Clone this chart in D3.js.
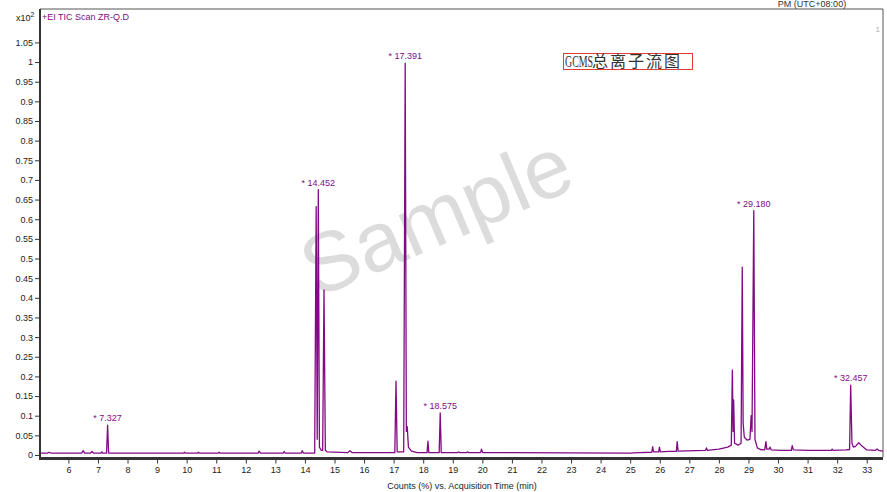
<!DOCTYPE html>
<html>
<head>
<meta charset="utf-8">
<script src="https://cdn.jsdelivr.net/npm/d3@7"></script>
<style>
  body { margin: 0; background: #fff; }
  svg { display: block; font-family: "Liberation Sans", Arial, sans-serif; }
</style>
</head>
<body>
<div id="chart"></div>
<script>
// Chromatogram trace: retention time (min) and counts (x10^2)
const times = [
  5.04, 5.30, 5.35, 5.40, 6.45, 6.50, 6.55, 6.75, 6.80, 6.85, 7.10, 7.13, 7.16,
  7.29, 7.327, 7.36, 9.90, 9.93, 9.96, 10.37, 10.40, 10.43, 11.07, 11.10, 11.13,
  12.42, 12.45, 12.50, 13.27, 13.30, 13.33, 13.88, 13.91, 13.95,
  14.33, 14.38, 14.415, 14.452, 14.49, 14.55, 14.60, 14.645, 14.69, 14.75,
  15.45, 15.52, 15.60, 17.04, 17.08, 17.12, 17.34, 17.391, 17.43, 17.46, 17.50, 17.60, 17.80,
  18.13, 18.16, 18.19, 18.54, 18.575, 18.61, 19.17, 19.20, 19.23, 19.47, 19.50, 19.53,
  19.94, 19.97, 20.01, 25.00, 25.30, 25.73, 25.76, 25.79, 25.96, 25.99, 26.02,
  26.30, 26.56, 26.59, 26.62, 27.20, 27.55, 27.58, 27.61, 28.00, 28.30,
  28.42, 28.455, 28.48, 28.50, 28.53, 28.65, 28.75, 28.79, 28.82, 28.86, 28.95,
  29.05, 29.09, 29.12, 29.18, 29.22, 29.30, 29.40, 29.55, 29.59, 29.62, 29.70, 29.73, 29.77,
  30.10, 30.45, 30.48, 30.52, 31.00, 31.80, 31.83, 31.86, 32.30,
  32.42, 32.457, 32.50, 32.55, 32.62, 32.73, 32.85, 33.00, 33.30, 33.35, 33.40, 33.55
];
const counts = [
  0.005, 0.005, 0.007, 0.005, 0.005, 0.011, 0.005, 0.005, 0.009, 0.005, 0.005, 0.008, 0.005,
  0.005, 0.076, 0.005, 0.005, 0.007, 0.005, 0.005, 0.007, 0.005, 0.005, 0.007, 0.005,
  0.005, 0.010, 0.005, 0.005, 0.009, 0.005, 0.005, 0.011, 0.005,
  0.005, 0.632, 0.040, 0.675, 0.020, 0.012, 0.012, 0.420, 0.012, 0.008,
  0.006, 0.011, 0.006, 0.006, 0.188, 0.008, 0.008, 0.997, 0.060, 0.072, 0.020, 0.010, 0.006,
  0.006, 0.035, 0.006, 0.006, 0.107, 0.006, 0.006, 0.008, 0.006, 0.006, 0.008, 0.006,
  0.006, 0.015, 0.006, 0.005, 0.006, 0.007, 0.021, 0.008, 0.008, 0.020, 0.008,
  0.009, 0.009, 0.034, 0.010, 0.011, 0.012, 0.018, 0.012, 0.015, 0.020,
  0.025, 0.216, 0.060, 0.140, 0.030, 0.025, 0.030, 0.478, 0.080, 0.045, 0.038,
  0.040, 0.100, 0.060, 0.622, 0.040, 0.018, 0.014, 0.013, 0.034, 0.015, 0.015, 0.020, 0.013,
  0.012, 0.012, 0.024, 0.013, 0.012, 0.012, 0.015, 0.012, 0.013,
  0.014, 0.178, 0.030, 0.020, 0.022, 0.031, 0.022, 0.013, 0.012, 0.015, 0.012, 0.010
];

// Labelled peaks
const peakTimes = [7.327, 14.452, 17.391, 18.575, 29.180, 32.457];
const peakLabels = ["* 7.327", "* 14.452", "* 17.391", "* 18.575", "* 29.180", "* 32.457"];

// Axis ticks
const xTicks = d3.range(6, 34, 1);
const yTicks = d3.range(0, 21.5, 1).map(i => i * 0.05);

const W = 887, H = 492;
const frame = { left: 40, right: 883, top: 9, bottom: 457 };
const purple = "#820a84";

const svg = d3.select("#chart").append("svg")
  .attr("width", W)
  .attr("height", H);

const x = d3.scaleLinear().domain([5.04, 33.55]).range([frame.left, frame.right]);
const y = d3.scaleLinear().domain([-0.0051, 1.135]).range([frame.bottom, frame.top]);

// Watermark behind the trace
svg.append("text")
  .attr("transform", "translate(436,216) rotate(-23)")
  .attr("text-anchor", "middle")
  .attr("dominant-baseline", "central")
  .attr("fill", "#dcdcdc")
  .style("font-size", "84px")
  .text("Sample");

// Top / right frame
svg.append("path")
  .attr("d", `M${frame.left},${frame.top}H${frame.right}V${frame.bottom}`)
  .attr("fill", "none")
  .attr("stroke", "#555")
  .attr("stroke-width", 1);

// Trace
const points = times.map((t, i) => [t, counts[i]]);
svg.append("path")
  .datum(points)
  .attr("fill", "none")
  .attr("stroke", purple)
  .attr("stroke-width", 1.3)
  .attr("stroke-linejoin", "round")
  .attr("d", d3.line().x(d => x(d[0])).y(d => y(d[1])));

// Peak labels
svg.selectAll(".peak-label")
  .data(peakTimes)
  .enter()
  .append("text")
  .attr("class", "peak-label")
  .attr("x", d => x(d))
  .attr("y", d => y(counts[times.indexOf(d)]) - 4)
  .attr("text-anchor", "middle")
  .attr("fill", purple)
  .style("font-size", "9px")
  .text((d, i) => peakLabels[i]);

// Axes
const xAxis = svg.append("g")
  .attr("transform", `translate(0,${frame.bottom + 1.5})`)
  .call(d3.axisBottom(x).tickValues(xTicks).tickSize(5).tickPadding(3).tickFormat(d3.format("d")));
xAxis.select(".domain").attr("stroke", "#333").attr("stroke-width", 3)
  .attr("d", `M${frame.left - 1},0H${frame.right}`);
xAxis.selectAll("line").attr("stroke", "#333");
xAxis.selectAll("text").attr("fill", "#222").style("font-size", "9px");

const yAxis = svg.append("g")
  .attr("transform", `translate(${frame.left},0)`)
  .call(d3.axisLeft(y).tickValues(yTicks).tickSize(5).tickPadding(2).tickFormat(d => String(+d.toFixed(2))));
yAxis.select(".domain").attr("stroke", "#333").attr("stroke-width", 2)
  .attr("d", `M0,${frame.top}V${frame.bottom + 2}`);
yAxis.selectAll("line").attr("stroke", "#333");
yAxis.selectAll("text").attr("fill", "#222").style("font-size", "9px");

// Texts
svg.append("text")
  .attr("x", 16).attr("y", 21)
  .attr("fill", "#222")
  .style("font-size", "9px")
  .text("x10")
  .append("tspan").attr("dy", -4).style("font-size", "7px").text("2");

svg.append("text")
  .attr("x", 42).attr("y", 20)
  .attr("fill", purple)
  .style("font-size", "9px")
  .text("+EI TIC Scan ZR-Q.D");

svg.append("text")
  .attr("x", 880).attr("y", 32)
  .attr("text-anchor", "end")
  .attr("fill", "#aaa")
  .style("font-size", "8px")
  .text("1");

svg.append("text")
  .attr("x", 812).attr("y", 7)
  .attr("text-anchor", "middle")
  .attr("fill", "#333")
  .style("font-size", "9px")
  .text("PM (UTC+08:00)");

svg.append("text")
  .attr("x", 462).attr("y", 489)
  .attr("text-anchor", "middle")
  .attr("fill", "#222")
  .style("font-size", "9px")
  .text("Counts (%) vs. Acquisition Time (min)");

// Boxed caption
svg.append("rect")
  .attr("x", 563.5).attr("y", 53.5)
  .attr("width", 129).attr("height", 16)
  .attr("fill", "#fff")
  .attr("stroke", "#e03c3c")
  .attr("stroke-width", 1);
svg.append("text")
  .attr("transform", "translate(565,67) scale(0.62,1)")
  .attr("fill", "#333")
  .style("font-family", "'Liberation Serif', serif")
  .style("font-size", "16px")
  .text("GCMS");
svg.append("text")
  .attr("x", 592).attr("y", 67)
  .attr("fill", "#333")
  .style("font-family", "'Noto Sans CJK SC', sans-serif")
  .style("font-size", "16px")
  .style("letter-spacing", "2px")
  .text("总离子流图");
</script>
</body>
</html>
